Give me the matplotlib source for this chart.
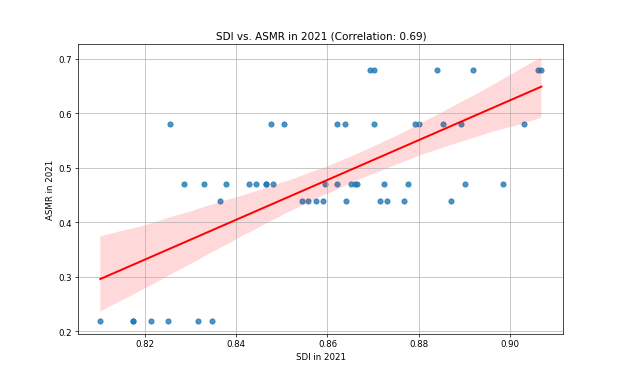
import matplotlib
matplotlib.use("Agg")
import matplotlib.pyplot as plt
import numpy as np
import pandas as pd
import seaborn as sns

# SDI values grouped by ASMR level
sdi_022 = [0.8103, 0.8175, 0.8175, 0.8213, 0.8252, 0.8317, 0.8347]
sdi_044 = [0.8364, 0.8545, 0.8557, 0.8574, 0.8591, 0.8640, 0.8716, 0.8731, 0.8767, 0.8871]
sdi_047 = [0.8286, 0.8330, 0.8377, 0.8428, 0.8444, 0.8465, 0.8466, 0.8481, 0.8594,
           0.8621, 0.8652, 0.8660, 0.8665, 0.8724, 0.8776, 0.8900, 0.8984]
sdi_058 = [0.8255, 0.8476, 0.8504, 0.8620, 0.8639, 0.8702, 0.8792, 0.8801, 0.8852, 0.8892, 0.9031]
sdi_068 = [0.8694, 0.8702, 0.8839, 0.8919, 0.9060, 0.9068]
asmr_levels = [0.22, 0.44, 0.47, 0.58, 0.68]

groups = [sdi_022, sdi_044, sdi_047, sdi_058, sdi_068]
df = pd.DataFrame({
    "SDI": np.concatenate(groups),
    "ASMR": np.concatenate([[lvl] * len(g) for lvl, g in zip(asmr_levels, groups)]),
})

corr = df["SDI"].corr(df["ASMR"])
print("correlation:", corr)

fig, ax = plt.subplots(figsize=(10, 6), dpi=62.6)
sns.regplot(data=df, x="SDI", y="ASMR", ax=ax, seed=0, line_kws={"color": "red"})
ax.set_title("SDI vs. ASMR in 2021 (Correlation: 0.69)")
ax.set_xlabel("SDI in 2021")
ax.set_ylabel("ASMR in 2021")
ax.grid(True)

fig.savefig("out.png", dpi=62.6)
plt.close(fig)
